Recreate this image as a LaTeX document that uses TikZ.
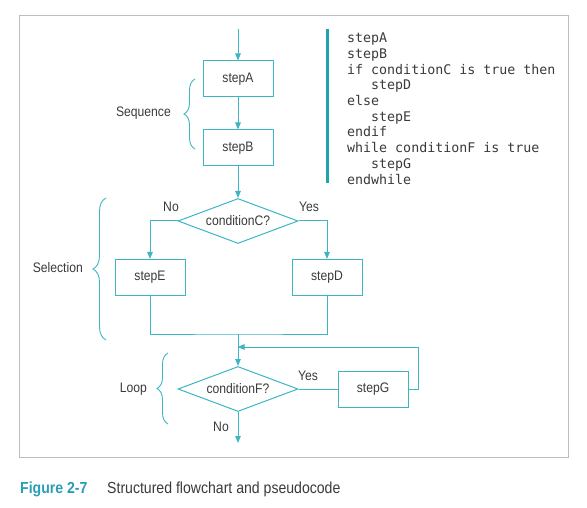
\documentclass[tikz,border=0pt]{standalone}
\usepackage{fontspec}
\setmainfont{Liberation Sans}
\newfontfamily\flowfont[FakeStretch=0.88]{Liberation Sans}
\newfontfamily\codefont{DejaVu Sans Mono}
\usetikzlibrary{shapes.geometric,arrows.meta,decorations.pathreplacing,calc}
\definecolor{flowteal}{HTML}{3DB5C3}
\definecolor{barteal}{HTML}{1FA2B2}
\definecolor{captteal}{HTML}{2A9DB5}
\definecolor{txtgray}{HTML}{3A3A3A}
\definecolor{framegray}{HTML}{BDBDBD}
\begin{document}
\begin{tikzpicture}[x=1pt,y=-1pt,
  line/.style={draw=flowteal, line width=1pt},
  arr/.style={line, -{Triangle[length=7pt,width=5.5pt]}},
  flowtext/.style={font=\flowfont\fontsize{13.8}{16}\selectfont, text=txtgray},
  stepbox/.style={flowtext, draw=flowteal, line width=1pt, minimum width=70pt, minimum height=36pt, inner sep=0pt},
  decision/.style={flowtext, diamond, draw=flowteal, line width=1pt, inner sep=0pt, shape aspect=2.6, minimum width=120pt, minimum height=45pt},
  lbl/.style={flowtext, inner sep=0pt},
  bracestyle/.style={draw=flowteal, line width=0.9pt, decorate, decoration={brace, amplitude=11pt}},
  codeline/.style={font=\codefont\fontsize{13.3}{15.7}\selectfont, text=txtgray, anchor=base west, inner sep=0pt}
]
\useasboundingbox (0,0) rectangle (587,508);
% frame
\draw[framegray, line width=1pt] (19,16) rectangle (568,457);

% flowchart nodes
\coordinate (start) at (238,29);
\node[stepbox] (stepA) at (238,79) {stepA};
\node[stepbox] (stepB) at (238,148) {stepB};
\node[decision] (condC) at (238,221) {conditionC?};
\node[stepbox] (stepE) at (150,277.5) {stepE};
\node[stepbox] (stepD) at (327,277.5) {stepD};
\coordinate (merge) at (238,334);
\coordinate (ret) at (238,347);
\node[decision] (condF) at (238,389) {conditionF?};
\node[stepbox] (stepG) at (373,389) {stepG};
\coordinate (retc) at (418,389);
\coordinate (finish) at (238,443);

% connectors
\draw[arr] (start) -- (stepA);
\draw[arr] (stepA) -- (stepB);
\draw[arr] (stepB) -- (condC);
\draw[arr] (condC.west) -| (stepE.north);
\draw[arr] (condC.east) -| (stepD.north);
\draw[line] (stepE.south) |- (merge) -| (stepD.south);
\draw[arr] (merge) -- (condF.north);
\draw[line] (condF.east) -- (stepG.west);
\draw[arr, shorten >=-0.5pt] (stepG.east) -- (retc) |- (ret);
\draw[arr] (condF.south) -- (finish);

% branch labels
\node[lbl] (noC) at (171,207) {No};
\node[lbl] (yesC) at (309,207) {Yes};
\node[lbl] (yesF) at (308,376) {Yes};
\node[lbl] (noF) at (221,427) {No};

% braces and group labels
\draw[bracestyle] (195,149) -- (195,79);
\node[lbl, anchor=east] (seq) at (171,113) {Sequence};
\draw[bracestyle, decoration={brace, amplitude=13pt}] (106,340) -- (106,198);
\node[lbl, anchor=east] (sel) at (83,268) {Selection};
\draw[bracestyle] (168,424) -- (168,353);
\node[lbl, anchor=east] (loop) at (147,389) {Loop};

% pseudocode
\draw[barteal, line width=3pt] (327,29) -- (327,183);
\node[codeline] (c1) at (347,43) {stepA};
\node[codeline] (c2) at (347,58.7) {stepB};
\node[codeline] (c3) at (347,74.4) {if conditionC is true then};
\node[codeline] (c4) at (347,90) {\hspace*{24pt}stepD};
\node[codeline] (c5) at (347,105.7) {else};
\node[codeline] (c6) at (347,121.4) {\hspace*{24pt}stepE};
\node[codeline] (c7) at (347,137) {endif};
\node[codeline] (c8) at (347,152.8) {while conditionF is true};
\node[codeline] (c9) at (347,168.5) {\hspace*{24pt}stepG};
\node[codeline] (c10) at (347,184.2) {endwhile};

% caption
\node[anchor=base west, inner sep=0pt, font=\flowfont\bfseries\fontsize{16}{19}\selectfont, text=captteal] (figlbl) at (20,493.5) {Figure 2-7};
\node[anchor=base west, inner sep=0pt, font=\flowfont\fontsize{16}{19}\selectfont, text=txtgray] (cap) at (107,493.5) {Structured flowchart and pseudocode};
\end{tikzpicture}
\end{document}
